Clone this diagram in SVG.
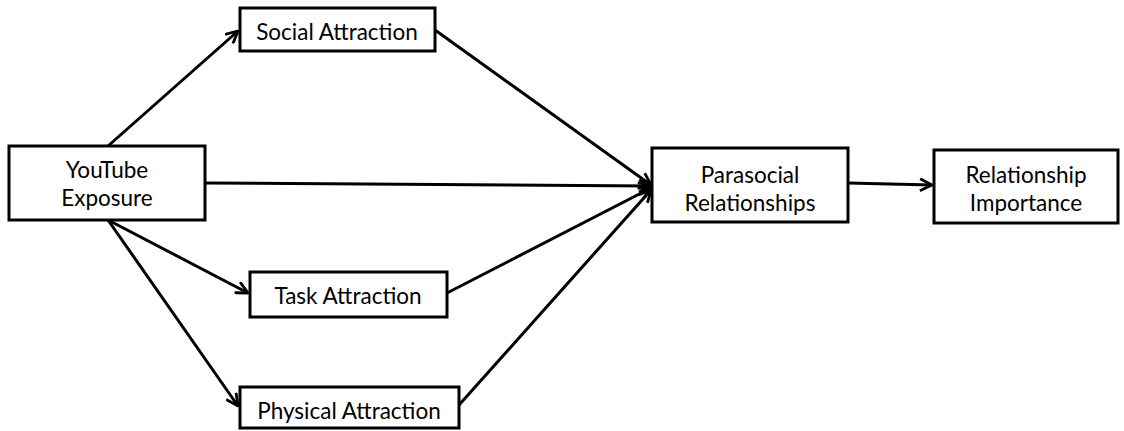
<svg xmlns="http://www.w3.org/2000/svg" width="1124" height="431" viewBox="0 0 1124 431">
<style>
.box{fill:#fff;stroke:#000;stroke-width:3}
.t{font-family:Lato,"Open Sans","Liberation Sans",sans-serif;font-size:22.5px;fill:#000;text-anchor:middle}
.c{stroke:#000;stroke-width:3;fill:none;marker-end:url(#ah)}
</style>
<defs>
<marker id="ah" viewBox="0 0 14 14" refX="13" refY="7" markerWidth="14" markerHeight="14" markerUnits="userSpaceOnUse" orient="auto">
<path d="M1,1 L13,7 L1,13" fill="none" stroke="#000" stroke-width="2.8"/>
</marker>
</defs>
<g id="connectors">
<line class="c" x1="108" y1="146" x2="238" y2="31"/>
<line class="c" x1="205" y1="183" x2="651" y2="186"/>
<line class="c" x1="435" y1="30" x2="651" y2="185"/>
<line class="c" x1="108" y1="220" x2="248" y2="293"/>
<line class="c" x1="108" y1="220" x2="238" y2="406"/>
<line class="c" x1="447" y1="293" x2="651" y2="188"/>
<line class="c" x1="459" y1="405" x2="651" y2="190"/>
<line class="c" x1="848" y1="183" x2="932" y2="185"/>
</g>
<g id="youtube"><rect class="box" x="9" y="146" width="196" height="74"/><text class="t" x="107" y="178">YouTube</text><text class="t" x="107" y="206">Exposure</text></g>
<g id="social"><rect class="box" x="240" y="8" width="195" height="43"/><text class="t" x="337" y="40">Social Attraction</text></g>
<g id="task"><rect class="box" x="250" y="272" width="197" height="45"/><text class="t" x="348" y="304">Task Attraction</text></g>
<g id="physical"><rect class="box" x="240" y="387" width="219" height="41"/><text class="t" x="349" y="419">Physical Attraction</text></g>
<g id="parasocial"><rect class="box" x="652" y="148" width="196" height="74"/><text class="t" x="750" y="183">Parasocial</text><text class="t" x="750" y="211">Relationships</text></g>
<g id="importance"><rect class="box" x="934" y="150" width="184" height="73"/><text class="t" x="1026" y="183">Relationship</text><text class="t" x="1026" y="211">Importance</text></g>
</svg>
